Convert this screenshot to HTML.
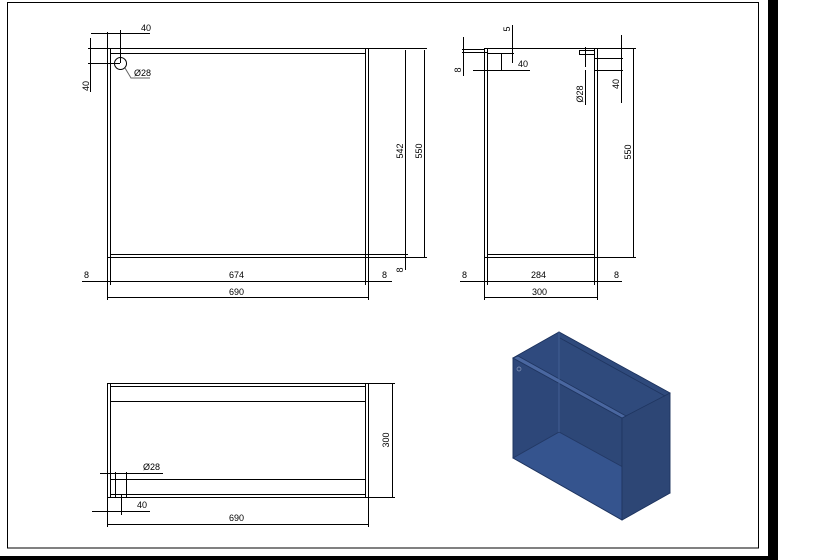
<!DOCTYPE html>
<html><head><meta charset="utf-8"><style>
html,body{margin:0;padding:0;background:#fff;width:819px;height:560px;overflow:hidden}
svg{display:block}
text{font-family:"Liberation Sans",sans-serif;font-size:9px;fill:#000}
</style></head><body>
<svg width="819" height="560" viewBox="0 0 819 560" xmlns="http://www.w3.org/2000/svg">
<rect x="7.5" y="2.5" width="751" height="545.5" fill="none" stroke="#000" stroke-width="1"/>
<rect x="768" y="0" width="10" height="560" fill="#000"/>
<rect x="0" y="556" width="778" height="4" fill="#000"/>

<g stroke="#000" stroke-width="1" fill="none">
<rect x="107.5" y="48.5" width="261" height="209"/>
<line x1="110.5" y1="48.5" x2="110.5" y2="257"/>
<line x1="365.5" y1="48.5" x2="365.5" y2="257"/>
<line x1="110.5" y1="53.5" x2="365.5" y2="53.5"/>
<line x1="110.5" y1="254.5" x2="365.5" y2="254.5"/>
<circle cx="120.5" cy="63.5" r="6"/>
<line x1="107.5" y1="32" x2="107.5" y2="48"/>
<line x1="91" y1="33.5" x2="150" y2="33.5"/>
<line x1="120.5" y1="30" x2="120.5" y2="63"/>
<line x1="88" y1="48.5" x2="107" y2="48.5"/>
<line x1="88" y1="63.5" x2="120" y2="63.5"/>
<line x1="90.5" y1="38" x2="90.5" y2="92"/>
<polyline points="125,68 131,78 150,78" stroke="#666"/>
<line x1="368" y1="48.5" x2="427" y2="48.5"/>
<line x1="368" y1="257.5" x2="427" y2="257.5"/>
<line x1="365" y1="254.5" x2="408" y2="254.5"/>
<line x1="405.5" y1="50" x2="405.5" y2="270"/>
<line x1="424.5" y1="50" x2="424.5" y2="257"/>
<line x1="107.5" y1="257" x2="107.5" y2="300"/>
<line x1="110.5" y1="257" x2="110.5" y2="285"/>
<line x1="365.5" y1="257" x2="365.5" y2="285"/>
<line x1="368.5" y1="257" x2="368.5" y2="300"/>
<line x1="82" y1="281.5" x2="392" y2="281.5"/>
<line x1="107.5" y1="297.5" x2="368.5" y2="297.5"/>
<rect x="484.5" y="48.5" width="113" height="209"/>
<line x1="487.5" y1="48.5" x2="487.5" y2="257"/>
<line x1="594.5" y1="48.5" x2="594.5" y2="257"/>
<line x1="487.5" y1="254.5" x2="594.5" y2="254.5"/>
<polyline points="487.5,53.5 501.5,53.5 501.5,70"/>
<rect x="579.5" y="50.5" width="15" height="4"/>
<line x1="585.5" y1="47" x2="585.5" y2="67"/>
<line x1="585.5" y1="70" x2="585.5" y2="105"/>
<line x1="462" y1="49.5" x2="485" y2="49.5"/>
<line x1="462" y1="52.5" x2="487" y2="52.5"/>
<line x1="463.5" y1="37" x2="463.5" y2="76"/>
<line x1="512.5" y1="25" x2="512.5" y2="63"/>
<line x1="502" y1="53.5" x2="514" y2="53.5"/>
<line x1="473" y1="70.5" x2="530" y2="70.5"/>
<line x1="595" y1="58.5" x2="623" y2="58.5"/>
<line x1="595" y1="70.5" x2="623" y2="70.5"/>
<line x1="621.5" y1="35" x2="621.5" y2="103"/>
<line x1="598" y1="48.5" x2="636" y2="48.5"/>
<line x1="598" y1="257.5" x2="636" y2="257.5"/>
<line x1="633.5" y1="48" x2="633.5" y2="257"/>
<line x1="484.5" y1="257" x2="484.5" y2="300"/>
<line x1="487.5" y1="257" x2="487.5" y2="285"/>
<line x1="594.5" y1="257" x2="594.5" y2="285"/>
<line x1="597.5" y1="257" x2="597.5" y2="300"/>
<line x1="460" y1="281.5" x2="622" y2="281.5"/>
<line x1="484.5" y1="297.5" x2="597.5" y2="297.5"/>
<rect x="107.5" y="383.5" width="261" height="114"/>
<line x1="110.5" y1="383.5" x2="110.5" y2="497"/>
<line x1="365.5" y1="383.5" x2="365.5" y2="497"/>
<line x1="110.5" y1="386.5" x2="365.5" y2="386.5"/>
<line x1="110.5" y1="401.5" x2="365.5" y2="401.5"/>
<line x1="110.5" y1="479.5" x2="365.5" y2="479.5"/>
<line x1="110.5" y1="494.5" x2="365.5" y2="494.5"/>
<line x1="115.5" y1="472" x2="115.5" y2="497"/>
<line x1="126.5" y1="472" x2="126.5" y2="497"/>
<line x1="100" y1="473.5" x2="163" y2="473.5"/>
<line x1="121.5" y1="495" x2="121.5" y2="515"/>
<line x1="92" y1="511.5" x2="150" y2="511.5"/>
<line x1="107.5" y1="497" x2="107.5" y2="527"/>
<line x1="368.5" y1="497" x2="368.5" y2="527"/>
<line x1="107.5" y1="524.5" x2="368.5" y2="524.5"/>
<line x1="369" y1="383.5" x2="395" y2="383.5"/>
<line x1="369" y1="497.5" x2="395" y2="497.5"/>
<line x1="392.5" y1="383.5" x2="392.5" y2="497.5"/>
</g>

<text x="141" y="31">40</text>
<text x="89" y="86" transform="rotate(-90 89 86)" text-anchor="middle">40</text>
<text x="134" y="76">Ø28</text>
<text x="229" y="278">674</text>
<text x="229" y="295">690</text>
<text x="84" y="278">8</text>
<text x="382" y="278">8</text>
<text x="403" y="151" transform="rotate(-90 403 151)" text-anchor="middle">542</text>
<text x="422" y="151" transform="rotate(-90 422 151)" text-anchor="middle">550</text>
<text x="403" y="270" transform="rotate(-90 403 270)" text-anchor="middle">8</text>
<text x="510" y="29" transform="rotate(-90 510 29)" text-anchor="middle">5</text>
<text x="461" y="70" transform="rotate(-90 461 70)" text-anchor="middle">8</text>
<text x="518" y="67">40</text>
<text x="619" y="84" transform="rotate(-90 619 84)" text-anchor="middle">40</text>
<text x="583" y="94" transform="rotate(-90 583 94)" text-anchor="middle">Ø28</text>
<text x="631" y="152" transform="rotate(-90 631 152)" text-anchor="middle">550</text>
<text x="462" y="278">8</text>
<text x="531" y="278">284</text>
<text x="532" y="295">300</text>
<text x="614" y="278">8</text>
<text x="143" y="470">Ø28</text>
<text x="137" y="508">40</text>
<text x="229" y="521">690</text>
<text x="389" y="440" transform="rotate(-90 389 440)" text-anchor="middle">300</text>

<g stroke="#1f3560" stroke-width="0.8">
<polygon points="513,358 559,332 670,393 622,418" fill="#3f5b8b"/>
<polygon points="559,332 670,393 670,493 559,432" fill="#2f4a7c"/>
<polygon points="513,458 559,432 670,493 622,520" fill="#3b5e9e"/>
<polygon points="513,358 559,332 559,432 513,458" fill="#2f4a7e"/>
<polygon points="513,358 622,418 622,520 513,458" fill="#2c4370" fill-opacity="0.35"/>
<polygon points="622,418 670,393 670,493 622,520" fill="#2d4675"/>
<polygon points="513,358 518,356 626,416 622,418" fill="#4a67a0"/>
<line x1="560" y1="338" x2="665" y2="396"/>
<line x1="559" y1="332" x2="559" y2="432" stroke="#4b69a0"/>
</g>
<circle cx="519" cy="369" r="2" fill="none" stroke="#8899bb" stroke-width="0.7"/>
</svg>
</body></html>
